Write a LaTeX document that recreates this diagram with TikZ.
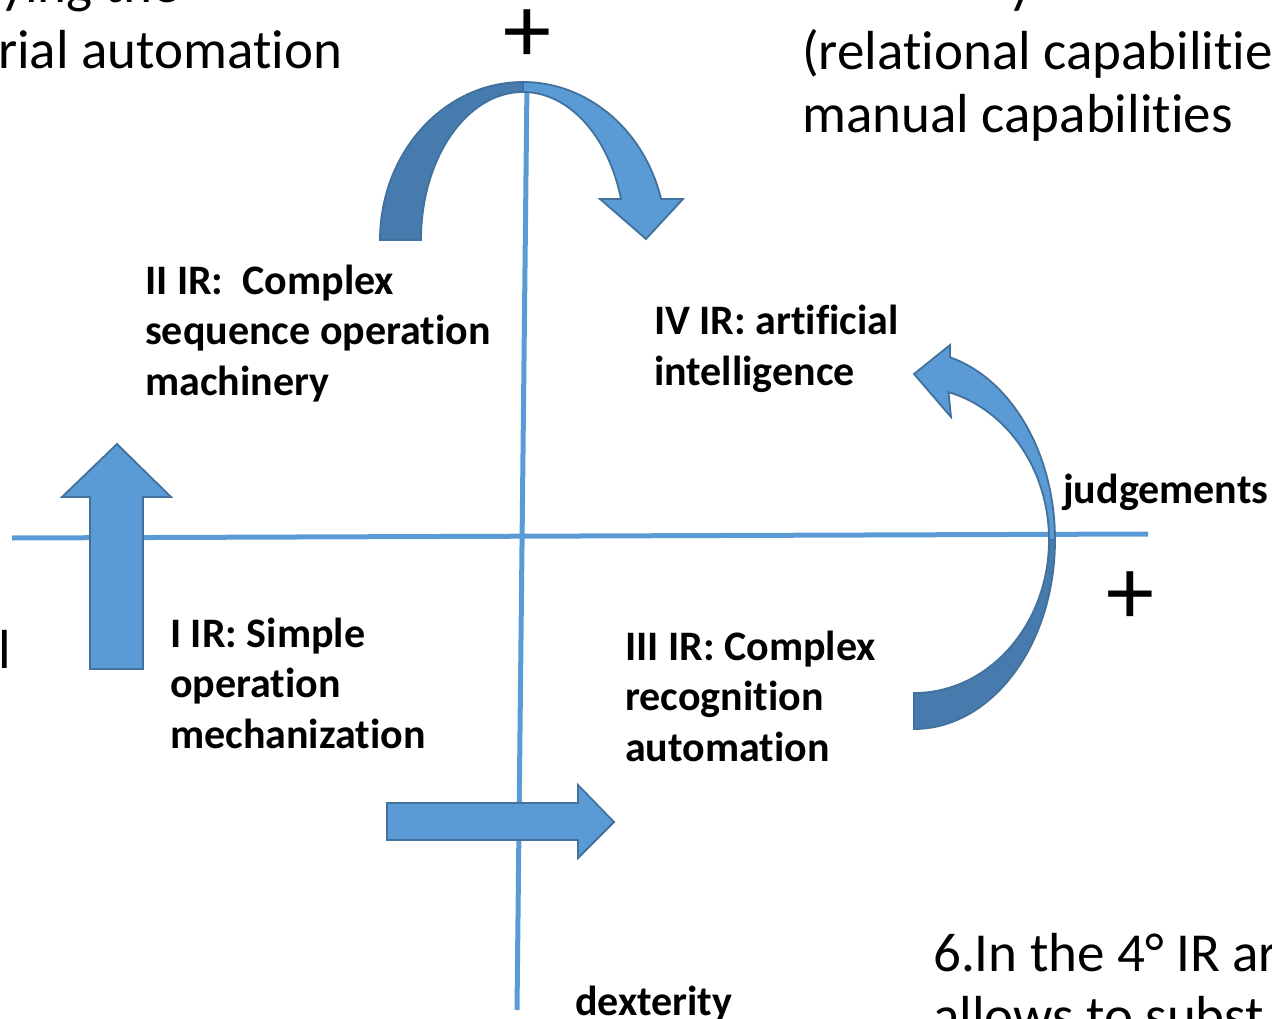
\documentclass[tikz,border=0pt]{standalone}
\usepackage{fontspec}
\setmainfont{Carlito}[Ligatures={NoCommon,NoRequired,NoContextual}]
\definecolor{lblue}{HTML}{5B9BD5}
\definecolor{dblue}{HTML}{477BAD}
\definecolor{eblue}{HTML}{41719C}
\begin{document}
\begin{tikzpicture}[x=1pt,y=-1pt,
  lab/.style={font=\fontsize{42}{50.5}\selectfont\bfseries, anchor=base west, align=left, inner sep=0pt},
  big/.style={font=\fontsize{55}{64}\selectfont, anchor=base west, align=left, inner sep=0pt},
  axisline/.style={draw=lblue, line width=5pt},
  lightarrow/.style={fill=lblue, draw=eblue, line width=1.8pt, line join=miter},
  darkarrow/.style={fill=dblue, draw=eblue, line width=1.8pt, line join=miter},
  plussign/.style={font=\fontsize{96}{96}\selectfont, inner sep=0pt}]
\useasboundingbox (0,0) rectangle (1272,1019);
\clip (0,0) rectangle (1272,1019);
% axes
\coordinate (vtop) at (527,82);
\coordinate (vbot) at (517,1010);
\coordinate (hl) at (12,538);
\coordinate (hr) at (1148,534);
\draw[axisline] (hl) -- (hr);
\draw[axisline] (vtop) -- (vbot);
% top curved arrow
\filldraw[darkarrow] (380,240) arc[start angle=180,end angle=270,x radius=143,y radius=158]
  -- (523,92) arc[start angle=270,end angle=180,x radius=102,y radius=148] -- cycle;
\filldraw[lightarrow] (523,82) arc[start angle=270,end angle=345,x radius=143,y radius=158]
  -- (683,199) -- (646,239) -- (600,199) -- (621,199.1)
  arc[start angle=343.96,end angle=270,x radius=102,y radius=148] -- cycle;
% right curved arrow
\filldraw[darkarrow] (914,729) arc[start angle=90,end angle=0,x radius=141,y radius=189]
  -- (1049,540) arc[start angle=0,end angle=90,x radius=135,y radius=153] -- cycle;
\filldraw[lightarrow] (1055,540) arc[start angle=0,end angle=-75.2,x radius=141,y radius=189]
  -- (950,345) -- (914,374) -- (951,417) -- (948.5,392.1)
  arc[start angle=-75.2,end angle=0,x radius=135,y radius=153] -- cycle;
% up arrow
\filldraw[lightarrow] (90,669) -- (90,497) -- (62,497) -- (117,444) -- (171,497) -- (143,497) -- (143,669) -- cycle;
% right arrow
\filldraw[lightarrow] (387,803) -- (578,803) -- (578,785) -- (614,822) -- (578,858) -- (578,840) -- (387,840) -- cycle;
% labels (anchor = baseline of last line)
\node[lab] (ii) at (145,395) {II IR:~ Complex\\sequence operation\\machinery};
\node[lab] (iv) at (654,385) {IV IR: artificial\\intelligence};
\node[lab] (i) at (170,748) {I IR: Simple\\operation\\mechanization};
\node[lab] (iii) at (625,761) {III IR: Complex\\recognition\\automation};
\node[lab] (judg) at (1063,503) {judgements};
\node[lab] (dex) at (575,1015) {dexterity};
\node[plussign] (p1) at (527,36) {+};
\node[plussign] (p2) at (1130,598) {+};
% cut-off texts
\node[big] (tl1) at (0,3) {ying the};
\node[big] (tl2) at (-2,69) {rial automation};
\node[big] (tr0) at (1008,3) {y};
\node[big] (tr1) at (802,70) {(relational capabilitie};
\node[big] (tr2) at (802,133) {manual capabilities};
\node[big] (br1) at (933,971) {6.In the 4° IR ar};
\node[big] (br2) at (933,1034) {allows to subst};
\node[big] (lft) at (-2,668) {l};
\end{tikzpicture}
\end{document}
